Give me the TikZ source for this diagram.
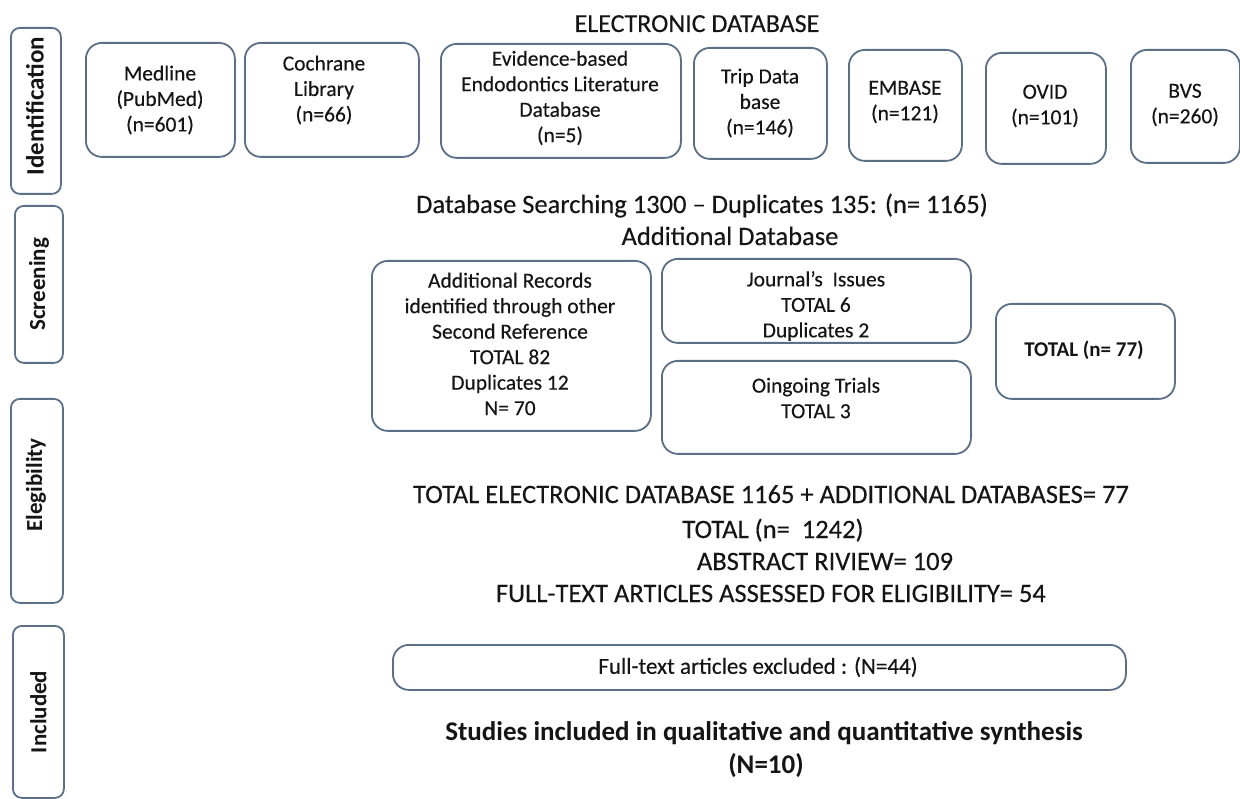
\documentclass[tikz,border=0pt]{standalone}
\usepackage{fontspec}
\setmainfont{Carlito}
\newfontfamily\medfont{Carlito}[FakeBold=0.25, Ligatures=TeX]
\definecolor{bord}{HTML}{5B7086}
\definecolor{txt}{HTML}{151515}
\tikzset{
  box/.style={draw=bord, line width=1.8pt, rounded corners=16pt, inner sep=0pt, anchor=north west},
  sidebox/.style={draw=bord, line width=1.8pt, rounded corners=9pt, inner sep=0pt, anchor=north west},
  boxtext/.style={font=\medfont\fontsize{21.5}{25.5}\selectfont, align=center, inner sep=0pt, text=txt},
  sidelabel/.style={font=\bfseries\fontsize{23}{26}\selectfont, rotate=90, inner sep=0pt, text=txt},
  bigtext/.style={font=\medfont\fontsize{26.5}{30}\selectfont, anchor=base, inner sep=0pt, text=txt},
  bigbold/.style={font=\bfseries\fontsize{27}{30}\selectfont, anchor=base, inner sep=0pt, text=txt}
}
\newcommand{\bxat}[5]{% name, x1, y1, x2, y2
  \node[box, minimum width={(#4-#2)*1pt}, minimum height={(#5-#3)*1pt}] (#1) at (#2,#3) {};}
\newcommand{\sbxat}[5]{%
  \node[sidebox, minimum width={(#4-#2)*1pt}, minimum height={(#5-#3)*1pt}] (#1) at (#2,#3) {};}
\begin{document}
\begin{tikzpicture}[x=1pt,y=-1pt]
\useasboundingbox (0,0) rectangle (1240,799);
\fill[white] (0,0) rectangle (1240,799);

% side boxes
\sbxat{sIdent}{10}{27}{60}{193}
\sbxat{sScreen}{14}{205}{62}{362}
\sbxat{sElig}{10}{398}{62}{602}
\sbxat{sIncl}{12}{625}{63}{797}
\node[sidelabel, font=\bfseries\fontsize{25}{28}\selectfont] (lIdent) at (35,106) {Identification};
\node[sidelabel] (lScreen) at (sScreen.center) {Screening};
\node[sidelabel] (lElig) at (36,485) {Elegibility};
\node[sidelabel] (lIncl) at (sIncl.center) {Included};

% title
\node[bigtext, font=\medfont\fontsize{26}{30}\selectfont] (title) at (697,32) {ELECTRONIC DATABASE};

% database boxes
\bxat{bMed}{85}{42}{234}{156}
\bxat{bCoch}{244}{42}{418}{156}
\bxat{bEvid}{440}{43}{680}{157}
\bxat{bTrip}{693}{47}{826}{158}
\bxat{bEmb}{848}{49}{961}{160}
\bxat{bOvid}{985}{52}{1105}{163}
\bxat{bBvs}{1130}{49}{1239}{162}
\node[boxtext] (tMed) at (160,100) {Medline\\(PubMed)\\(n=601)};
\node[boxtext] (tCoch) at (324,90) {Cochrane\\Library\\(n=66)};
\node[boxtext] (tEvid) at (560,98) {Evidence-based\\Endodontics Literature\\Database\\(n=5)};
\node[boxtext] (tTrip) at (760,103) {Trip Data\\base\\(n=146)};
\node[boxtext] (tEmb) at (905,102) {EMBASE\\(n=121)};
\node[boxtext] (tOvid) at (1045,106) {OVID\\(n=101)};
\node[boxtext] (tBvs) at (1185,105) {BVS\\(n=260)};

% searching lines
\node[bigtext] (search) at (702,213) {Database Searching 1300 – Duplicates 135: (n= 1165)};
\node[bigtext] (addl) at (730,245) {Additional Database};

% additional boxes
\bxat{bAdd}{371}{260}{650}{430}
\bxat{bJour}{661}{258}{970}{342}
\bxat{bOng}{661}{360}{970}{453}
\bxat{bTot}{995}{303}{1174}{398}
\node[boxtext] (tAdd) at (510,344) {Additional Records\\identified through other\\Second Reference\\TOTAL 82\\Duplicates 12\\N= 70};
\node[boxtext] (tJour) at (816,306) {Journal’s\ \ Issues\\TOTAL 6\\Duplicates 2};
\node[boxtext] (tOng) at (816,398) {Oingoing Trials\\TOTAL 3};
\node[boxtext, font=\bfseries\fontsize{21}{25}\selectfont] (tTot) at (1084,350) {TOTAL (n= 77)};

% totals
\node[bigtext] (tot1) at (771,503) {TOTAL ELECTRONIC DATABASE 1165 + ADDITIONAL DATABASES= 77};
\node[bigtext] (tot2) at (773,538) {TOTAL (n=\ \ 1242)};
\node[bigtext] (tot3) at (825,570) {ABSTRACT RIVIEW= 109};
\node[bigtext] (tot4) at (771,602) {FULL-TEXT ARTICLES ASSESSED FOR ELIGIBILITY= 54};

% excluded
\bxat{bExc}{392}{644}{1125}{689}
\node[boxtext, font=\medfont\fontsize{23}{27}\selectfont] (tExc) at (758,667) {Full-text articles excluded : (N=44)};

% included
\node[bigbold] (inc1) at (764,740) {Studies included in qualitative and quantitative synthesis};
\node[bigbold] (inc2) at (766,773) {(N=10)};
\end{tikzpicture}
\end{document}
